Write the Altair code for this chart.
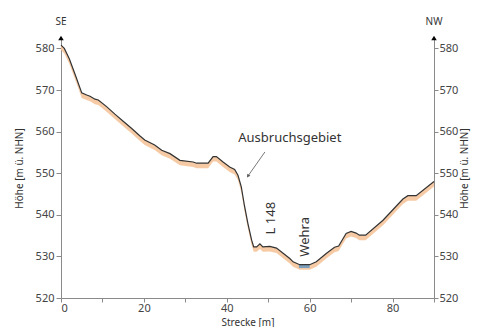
import altair as alt
import pandas as pd

# Profile data (distance in m, elevation in m ü. NHN)
dist = [0, 0.8, 2, 3.5, 5, 6.2, 7, 8.2, 9, 11, 13, 15, 17, 19, 20.2, 22.6, 24.3,
        26.3, 28.7, 31.9, 32.7, 35.5, 36.7, 37.5, 39.1, 40.7, 41.9, 42.7, 43.5,
        44.3, 45.1, 46.0, 46.5, 47.2, 48.0, 48.7, 50.4, 52, 55.2, 56, 57.6, 60,
        61.6, 64, 66.0, 67.0, 68.8, 70, 71.2, 72, 73.5, 77.7, 82.5, 83.7, 85.7, 90]
height = [580.8, 580.0, 577.5, 573.5, 569.3, 568.8, 568.5, 567.8, 567.6, 566.0,
          564.2, 562.5, 560.8, 559.0, 558.0, 556.8, 555.5, 554.7, 553.1, 552.7,
          552.4, 552.4, 554.0, 554.0, 552.7, 551.5, 550.9, 549.5, 546.7, 542.0,
          537.9, 533.9, 532.3, 532.3, 533.0, 532.3, 532.4, 532.0, 529.5, 528.7,
          528.0, 528.0, 528.7, 530.7, 532.2, 532.5, 535.5, 536.0, 535.6, 535.1,
          535.1, 538.7, 543.8, 544.6, 544.6, 548.0]
band_depth = 1.2

water_x = [57.4, 60.0]
water_top = [528.0, 528.0]
water_bottom = [527.2, 527.2]

end_x = [0, 90]
end_labels = ["SE", "NW"]

labels = ["Ausbruchsgebiet", "L 148", "Wehra"]
label_x = [55.2, 50.6, 58.8]
label_y = [558.4, 539.2, 534.7]
label_angle = [0, 270, 270]

arrow_x = [49.2]
arrow_y = [555.1]
arrow_x2 = [45.1]
arrow_y2 = [549.3]

YMIN, YMAX = 520, 582.5
FONT = "Noto Sans"
TXT = "#333333"
AX = "#8a8a8a"

prof = pd.DataFrame({"d": dist, "h": height})
prof["hb"] = prof["h"] - band_depth
water = pd.DataFrame({"d": water_x, "t": water_top, "b": water_bottom})
ends = pd.DataFrame({"d": end_x, "lab": end_labels, "y": [YMAX, YMAX], "ly": [586.3, 586.3]})
ann = pd.DataFrame({"d": label_x, "h": label_y, "t": labels, "a": label_angle})
arr = pd.DataFrame({"x": arrow_x, "y": arrow_y, "x2": arrow_x2, "y2": arrow_y2})

xs = alt.Scale(domain=[0, 90], nice=False, zero=False)
ys = alt.Scale(domain=[YMIN, YMAX], nice=False, zero=False)

def yaxis(orient):
    left = orient == "left"
    return alt.Axis(orient=orient, values=[520, 530, 540, 550, 560, 570, 580],
                    title="Höhe [m ü. NHN]", grid=False, domainColor=AX, tickColor=AX,
                    tickSize=5 if left else 4, labelFont=FONT, labelFontSize=11,
                    labelColor="#444444",
                    titleFont=FONT, titleFontSize=10, titleFontWeight="normal",
                    titleColor=TXT, titlePadding=11 if left else 2,
                    labelPadding=2 if left else 1, titleAngle=270,
                    titleBaseline="bottom" if left else "top")

xaxis = alt.Axis(values=list(range(0, 91, 10)),
                 labelExpr="datum.value % 20 == 0 ? datum.label : ''",
                 title="Strecke [m]", grid=False, domainColor=AX, tickColor=AX,
                 tickSize=4, labelFont=FONT, labelFontSize=11, labelColor="#444444",
                 titleFont=FONT, titleFontSize=10, titleFontWeight="normal",
                 titleColor=TXT, titleY=27, titleBaseline="alphabetic", labelPadding=0)

X = lambda f: alt.X(f, scale=xs, axis=xaxis)

band = alt.Chart(prof).mark_area(color="#f5c49a", opacity=0.9).encode(
    x=X("d:Q"),
    y=alt.Y("h:Q", scale=ys, axis=yaxis("left")),
    y2="hb:Q")

wat = alt.Chart(water).mark_area(color="#7d9fbc").encode(
    x=X("d:Q"),
    y=alt.Y("t:Q", scale=ys, axis=None),
    y2="b:Q")

line = alt.Chart(prof).mark_line(color="#333333", strokeWidth=1.2).encode(
    x=X("d:Q"),
    y=alt.Y("h:Q", scale=ys, axis=yaxis("right")))

tri = alt.Chart(ends).mark_point(shape="triangle-up", filled=True, color="black",
                                 size=30, opacity=1).encode(
    x=X("d:Q"),
    y=alt.Y("y:Q", scale=ys, axis=None))

endlab = alt.Chart(ends).mark_text(font=FONT, fontSize=10, color=TXT).encode(
    x=X("d:Q"),
    y=alt.Y("ly:Q", scale=ys, axis=None),
    text="lab:N")

anntext = alt.Chart(ann).mark_text(font=FONT, fontSize=13, color=TXT).encode(
    x=X("d:Q"),
    y=alt.Y("h:Q", scale=ys, axis=None),
    text="t:N", angle=alt.Angle("a:Q", scale=None))

arrow = alt.Chart(arr).mark_rule(color="#555555", strokeWidth=0.8).encode(
    x=X("x:Q"),
    y=alt.Y("y:Q", scale=ys, axis=None),
    x2="x2:Q", y2="y2:Q")

head = alt.Chart(arr).mark_point(shape="triangle-up", filled=True, color="#555555",
                                 size=14, angle=215, opacity=1).encode(
    x=X("x2:Q"),
    y=alt.Y("y2:Q", scale=ys, axis=None))

chart = alt.layer(band, wat, line, tri, endlab, anntext, arrow, head).resolve_scale(
    y="independent").properties(
    width=373, height=260,
    autosize=alt.AutoSizeParams(type="none"),
    padding={"left": 53, "top": 30, "right": 38, "bottom": 29},
    background="white"
).configure_view(stroke=None)

chart.save("out.html", embed_options={"renderer": "svg", "actions": False})
